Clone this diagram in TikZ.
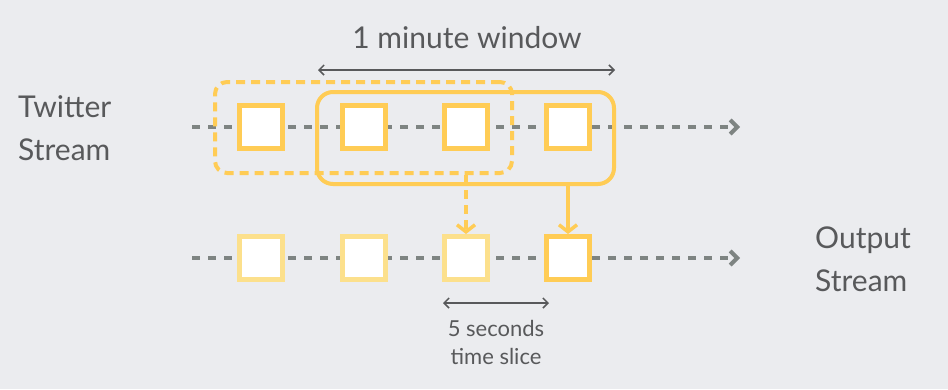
\documentclass[tikz,border=0pt]{standalone}
\usepackage{fontspec}
\setmainfont{Lato}
\usetikzlibrary{arrows.meta}

\definecolor{bg}{HTML}{EBECEF}
\definecolor{slot}{HTML}{FFCC55}
\definecolor{paleslot}{HTML}{FCE08C}
\definecolor{streamgray}{HTML}{7E8482}
\definecolor{labelgray}{HTML}{58595B}

\tikzset{
  slotbox/.style={draw=slot, line width=5pt, fill=white, minimum size=43pt, inner sep=0pt},
  stream/.style={draw=streamgray, line width=4pt, dash pattern=on 8pt off 8pt,
    -{Straight Barb[length=7pt,width=14pt,line width=4pt]}},
  window/.style={draw=slot, line width=4pt, inner sep=0pt, rounded corners=12pt},
  feed/.style={draw=slot, line width=3.5pt, -{Straight Barb[length=7pt,width=18pt,line width=3.5pt]}},
  span/.style={draw=labelgray, line width=1.5pt,
    {Straight Barb[length=5pt,width=10pt,line width=1.5pt]}-{Straight Barb[length=5pt,width=10pt,line width=1.5pt]}},
  bigtext/.style={text=labelgray, font=\fontsize{30}{43}\selectfont, align=left, inner sep=0pt},
  smalltext/.style={text=labelgray, font=\fontsize{22}{28}\selectfont, align=center, inner sep=0pt}
}

\begin{document}
\begin{tikzpicture}[x=1pt,y=-1pt]
  \fill[bg] (0,0) rectangle (948,389);

  % the two streams
  \coordinate (tin) at (192,127);
  \coordinate (tout) at (740,127);
  \coordinate (oin) at (192,258);
  \coordinate (oout) at (740,258);
  \draw[stream] (tin) -- (tout);
  \draw[stream] (oin) -- (oout);

  % windows over the input stream
  \node[window, dashed, dash pattern=on 9pt off 6pt, minimum width=297pt, minimum height=91pt]
    (win1) at (363.5,127.5) {};
  \node[window, rounded corners=16pt, minimum width=297pt, minimum height=92pt]
    (win2) at (465.5,138) {};

  % time slices
  \foreach \x [count=\i] in {261,364,466,568} {
    \node[slotbox] (t\i) at (\x,127) {};
  }
  \foreach \x/\c [count=\i] in {261/paleslot,364/paleslot,466/paleslot,568/slot} {
    \node[slotbox, draw=\c] (o\i) at (\x,258) {};
  }

  % each window gives one output slice
  \draw[feed, dashed, dash pattern=on 9pt off 6pt] (win1.south -| o3.north) -- (o3.north);
  \draw[feed] (win2.south -| o4.north) -- (o4.north);

  % labels
  \node[bigtext, anchor=west] (twitter) at (18,128) {Twitter\\Stream};
  \node[bigtext, anchor=west] (output) at (815,259) {Output\\Stream};

  \node[bigtext] (minute) at (467,38) {1 minute window};
  \coordinate (ma) at (318,70);
  \coordinate (mb) at (615,70);
  \draw[span] (ma) -- (mb);

  \coordinate (sa) at (443,303);
  \coordinate (sb) at (549,303);
  \draw[span] (sa) -- (sb);
  \node[smalltext] (slice) at (496,342) {5 seconds\\time slice};
\end{tikzpicture}
\end{document}
